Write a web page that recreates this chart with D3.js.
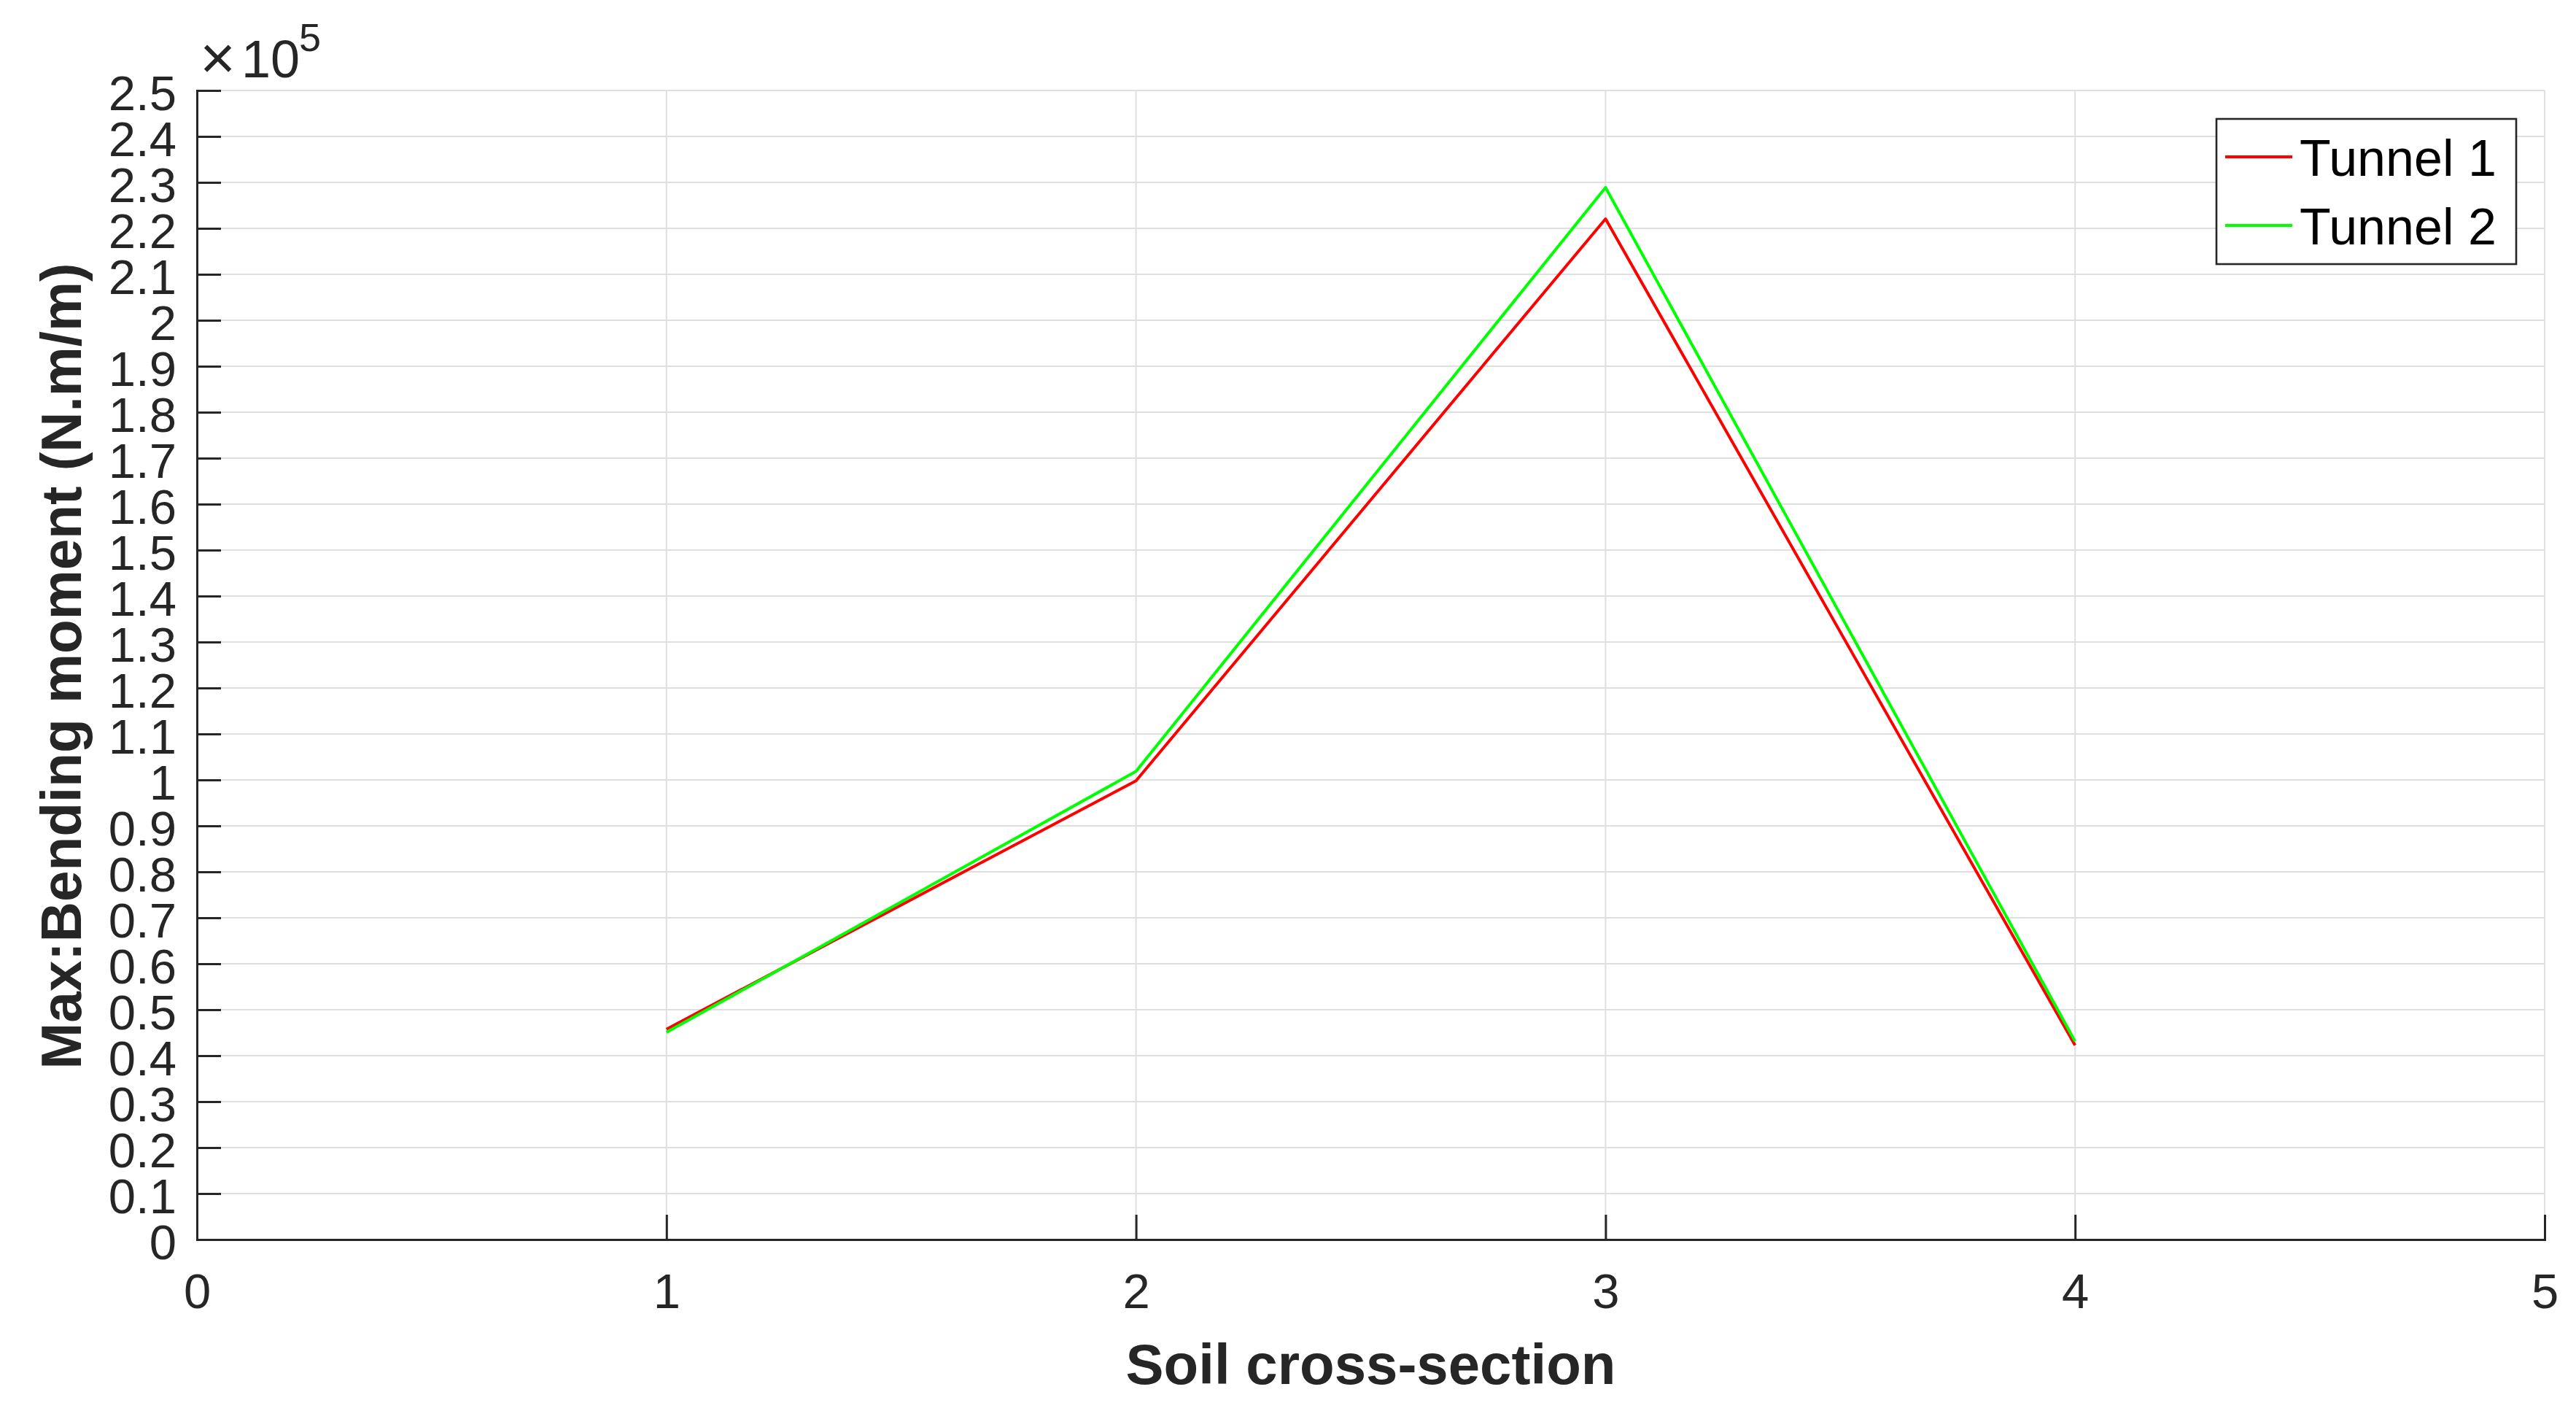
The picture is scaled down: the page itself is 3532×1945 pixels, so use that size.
<!DOCTYPE html>
<meta charset="utf-8">
<style>
  body { margin: 0; background: #fff; }
  .grid line { stroke: #dfdfdf; stroke-width: 2px; }
  .axis path, .axis line { stroke: #262626; stroke-width: 3px; }
  .axis text { fill: #262626; font-family: "Liberation Sans", Arial, sans-serif; font-size: 67px; }
  .label { fill: #262626; font-family: "Liberation Sans", Arial, sans-serif; font-weight: bold; font-size: 78px; }
  .line { fill: none; stroke-width: 4px; stroke-linejoin: round; }
</style>
<body>
<script src="https://d3js.org/d3.v7.min.js"></script>
<script>

// data
var sections = [1, 2, 3, 4];
var tunnel1 = [45760, 99800, 222060, 42270];
var tunnel2 = [45080, 101860, 228900, 43120];
var seriesNames = ["Tunnel 1", "Tunnel 2"];
var seriesColors = ["#ff0000", "#00ff00"];
var xTicks = [0, 1, 2, 3, 4, 5];
var yTicks = d3.range(0, 26).map(function(i) { return i * 10000; });
var yTickLabels = ["0", "0.1", "0.2", "0.3", "0.4", "0.5", "0.6", "0.7", "0.8", "0.9",
                   "1", "1.1", "1.2", "1.3", "1.4", "1.5", "1.6", "1.7", "1.8", "1.9",
                   "2", "2.1", "2.2", "2.3", "2.4", "2.5"];

// set the dimensions and margins of the graph
var W = 3532, H = 1945;
var margin = {top: 124, right: 43, bottom: 246, left: 270},
    width = W - margin.left - margin.right,
    height = H - margin.top - margin.bottom;

var x = d3.scaleLinear().domain([0, 5]).range([0, width]);
var y = d3.scaleLinear().domain([0, 250000]).range([height, 0]);

var svg = d3.select("body").append("svg")
    .attr("width", W)
    .attr("height", H)
  .append("g")
    .attr("transform", "translate(" + margin.left + "," + margin.top + ")");

// grid
svg.append("g").attr("class", "grid")
  .selectAll("line.h").data(yTicks).enter().append("line")
    .attr("x1", 0).attr("x2", width)
    .attr("y1", function(d) { return y(d); })
    .attr("y2", function(d) { return y(d); });
svg.select(".grid")
  .selectAll("line.v").data(xTicks).enter().append("line")
    .attr("y1", 0).attr("y2", height)
    .attr("x1", function(d) { return x(d); })
    .attr("x2", function(d) { return x(d); });

// axes
svg.append("g")
    .attr("class", "axis")
    .attr("transform", "translate(0," + height + ")")
    .call(d3.axisBottom(x).tickValues(xTicks).tickFormat(d3.format("d"))
      .tickSizeInner(-34).tickSizeOuter(0).tickPadding(46));

var yAxis = svg.append("g")
    .attr("class", "axis")
    .call(d3.axisLeft(y).tickValues(yTicks)
      .tickFormat(function(d, i) { return yTickLabels[i]; })
      .tickSizeInner(-33).tickSizeOuter(0).tickPadding(28));
yAxis.selectAll("text").attr("dy", "0.39em");
svg.selectAll(".axis .domain").attr("stroke-linecap", "square");

// exponent
var expo = svg.append("text")
    .style("fill", "#262626")
    .style("font-family", "'Liberation Sans', Arial, sans-serif");
expo.append("tspan").attr("x", 4).attr("y", -16).style("font-size", "84px").text("\u00d7");
expo.append("tspan").attr("x", 61).attr("y", -18).style("font-size", "72px").text("10");
expo.append("tspan").attr("x", 140).attr("y", -54).style("font-size", "54px").text("5");

// lines
var series = [tunnel1, tunnel2];
var valueline = d3.line()
    .x(function(d, i) { return x(sections[i]); })
    .y(function(d) { return y(d); });

series.forEach(function(s, k) {
  svg.append("path")
      .data([s])
      .attr("class", "line")
      .attr("stroke", seriesColors[k])
      .attr("d", valueline);
});

// axis labels
svg.append("text")
    .attr("class", "label")
    .attr("text-anchor", "middle")
    .attr("x", width / 2)
    .attr("y", 1897 - margin.top)
    .text("Soil cross-section");

svg.append("text")
    .attr("class", "label")
    .attr("text-anchor", "middle")
    .attr("transform", "translate(" + (111 - margin.left) + "," + (913 - margin.top) + ") rotate(-90)")
    .attr("textLength", 1105)
    .attr("lengthAdjust", "spacingAndGlyphs")
    .text("Max:Bending moment (N.m/m)");

// legend
var legend = svg.append("g")
    .attr("transform", "translate(" + (width - 450) + "," + 39 + ")");
legend.append("rect")
    .attr("width", 411).attr("height", 199)
    .attr("fill", "#fff").attr("stroke", "#262626").attr("stroke-width", 2.6);
seriesNames.forEach(function(name, k) {
  var ly = 52 + k * 94;
  legend.append("line")
      .attr("x1", 12).attr("x2", 104)
      .attr("y1", ly).attr("y2", ly)
      .attr("stroke", seriesColors[k]).attr("stroke-width", 4);
  legend.append("text")
      .attr("x", 114).attr("y", ly + 26)
      .style("font-family", "'Liberation Sans', Arial, sans-serif")
      .style("font-size", "70px")
      .attr("fill", "#000")
      .text(name);
});

</script>
</body>
